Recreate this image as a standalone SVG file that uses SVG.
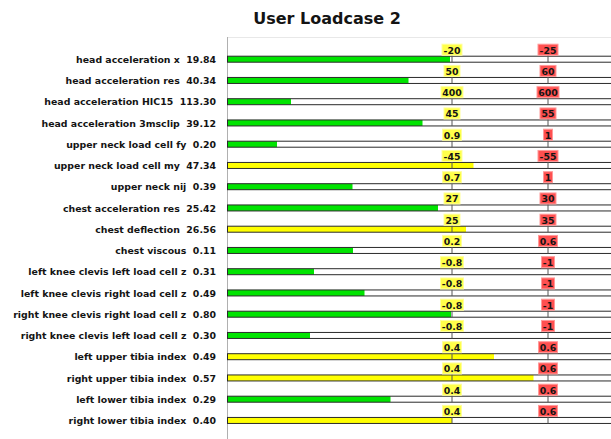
<svg xmlns="http://www.w3.org/2000/svg" width="611" height="439" viewBox="0 0 611 439">
<style>
text{font-family:"DejaVu Sans","Liberation Sans",sans-serif;font-weight:bold;fill:#141414}
.title{font-size:16px;text-anchor:middle}
.lbl{font-size:9.4px;text-anchor:end;white-space:pre}
.tl{font-size:9.4px;text-anchor:middle}
.trk{fill:none;stroke:#2a2a2a;stroke-width:1}
.bg{fill:#fff}
.g{fill:#00e400}
.y{fill:#ffff00}
.tick{stroke:#555;stroke-width:1;fill:none}
.yb{fill:#ffff4a;stroke:#ffff9c;stroke-width:1}
.rb{fill:#ff5050;stroke:#ff9a9a;stroke-width:1}
.axis{stroke:#b0b0b0;stroke-width:1;fill:none}
.top{stroke:#e8e8e8;stroke-width:1;fill:none}
</style>
<rect width="611" height="439" fill="#fff"/>
<text class="title" x="327" y="24">User Loadcase 2</text>
<g id="axes">
<path class="top" d="M227.5,37.5H611"/>
<path class="axis" d="M227.5,37V439"/>
</g>
<g id="connectors"/>

<g id="row1" transform="translate(0,56.2)">
<text class="lbl" x="216" y="6.6" xml:space="preserve">head acceleration x  19.84</text>
<rect class="bg" x="227.5" y="0" width="384" height="6"/><rect class="g" x="227.5" y="0" width="222.5" height="6"/><rect class="trk" x="227.5" y="0" width="384" height="6"/>
<path class="tick" d="M452,-2V6M548,-2V6"/>
<rect class="yb" x="442" y="-12" width="20" height="11"/><text class="tl" x="452" y="-2.5">-20</text>
<rect class="rb" x="538" y="-12" width="20" height="11"/><text class="tl" x="548" y="-2.5">-25</text>
</g>

<g id="row2" transform="translate(0,77.45)">
<text class="lbl" x="216" y="6.6" xml:space="preserve">head acceleration res  40.34</text>
<rect class="bg" x="227.5" y="0" width="384" height="6"/><rect class="g" x="227.5" y="0" width="181" height="6"/><rect class="trk" x="227.5" y="0" width="384" height="6"/>
<path class="tick" d="M452,-2V6M548,-2V6"/>
<rect class="yb" x="444" y="-12" width="16" height="11"/><text class="tl" x="452" y="-2.5">50</text>
<rect class="rb" x="540" y="-12" width="16" height="11"/><text class="tl" x="548" y="-2.5">60</text>
</g>

<g id="row3" transform="translate(0,98.7)">
<text class="lbl" x="216" y="6.6" xml:space="preserve">head acceleration HIC15  113.30</text>
<rect class="bg" x="227.5" y="0" width="384" height="6"/><rect class="g" x="227.5" y="0" width="63.5" height="6"/><rect class="trk" x="227.5" y="0" width="384" height="6"/>
<path class="tick" d="M452,-2V6M548,-2V6"/>
<rect class="yb" x="441" y="-12" width="22" height="11"/><text class="tl" x="452" y="-2.5">400</text>
<rect class="rb" x="537" y="-12" width="22" height="11"/><text class="tl" x="548" y="-2.5">600</text>
</g>

<g id="row4" transform="translate(0,119.95)">
<text class="lbl" x="216" y="6.6" xml:space="preserve">head acceleration 3msclip  39.12</text>
<rect class="bg" x="227.5" y="0" width="384" height="6"/><rect class="g" x="227.5" y="0" width="195" height="6"/><rect class="trk" x="227.5" y="0" width="384" height="6"/>
<path class="tick" d="M452,-2V6M548,-2V6"/>
<rect class="yb" x="444" y="-12" width="16" height="11"/><text class="tl" x="452" y="-2.5">45</text>
<rect class="rb" x="540" y="-12" width="16" height="11"/><text class="tl" x="548" y="-2.5">55</text>
</g>

<g id="row5" transform="translate(0,141.2)">
<text class="lbl" x="216" y="6.6" xml:space="preserve">upper neck load cell fy  0.20</text>
<rect class="bg" x="227.5" y="0" width="384" height="6"/><rect class="g" x="227.5" y="0" width="49.5" height="6"/><rect class="trk" x="227.5" y="0" width="384" height="6"/>
<path class="tick" d="M452,-2V6M548,-2V6"/>
<rect class="yb" x="442.5" y="-12" width="19" height="11"/><text class="tl" x="452" y="-2.5">0.9</text>
<rect class="rb" x="543.5" y="-12" width="9" height="11"/><text class="tl" x="548" y="-2.5">1</text>
</g>

<g id="row6" transform="translate(0,162.45)">
<text class="lbl" x="216" y="6.6" xml:space="preserve">upper neck load cell my  47.34</text>
<rect class="bg" x="227.5" y="0" width="384" height="6"/><rect class="y" x="227.5" y="0" width="246" height="6"/><rect class="trk" x="227.5" y="0" width="384" height="6"/>
<path class="tick" d="M452,-2V6M548,-2V6"/>
<rect class="yb" x="442" y="-12" width="20" height="11"/><text class="tl" x="452" y="-2.5">-45</text>
<rect class="rb" x="538" y="-12" width="20" height="11"/><text class="tl" x="548" y="-2.5">-55</text>
</g>

<g id="row7" transform="translate(0,183.7)">
<text class="lbl" x="216" y="6.6" xml:space="preserve">upper neck nij  0.39</text>
<rect class="bg" x="227.5" y="0" width="384" height="6"/><rect class="g" x="227.5" y="0" width="125" height="6"/><rect class="trk" x="227.5" y="0" width="384" height="6"/>
<path class="tick" d="M452,-2V6M548,-2V6"/>
<rect class="yb" x="442.5" y="-12" width="19" height="11"/><text class="tl" x="452" y="-2.5">0.7</text>
<rect class="rb" x="543.5" y="-12" width="9" height="11"/><text class="tl" x="548" y="-2.5">1</text>
</g>

<g id="row8" transform="translate(0,204.95)">
<text class="lbl" x="216" y="6.6" xml:space="preserve">chest acceleration res  25.42</text>
<rect class="bg" x="227.5" y="0" width="384" height="6"/><rect class="g" x="227.5" y="0" width="210.5" height="6"/><rect class="trk" x="227.5" y="0" width="384" height="6"/>
<path class="tick" d="M452,-2V6M548,-2V6"/>
<rect class="yb" x="444" y="-12" width="16" height="11"/><text class="tl" x="452" y="-2.5">27</text>
<rect class="rb" x="540" y="-12" width="16" height="11"/><text class="tl" x="548" y="-2.5">30</text>
</g>

<g id="row9" transform="translate(0,226.2)">
<text class="lbl" x="216" y="6.6" xml:space="preserve">chest deflection  26.56</text>
<rect class="bg" x="227.5" y="0" width="384" height="6"/><rect class="y" x="227.5" y="0" width="238.5" height="6"/><rect class="trk" x="227.5" y="0" width="384" height="6"/>
<path class="tick" d="M452,-2V6M548,-2V6"/>
<rect class="yb" x="444" y="-12" width="16" height="11"/><text class="tl" x="452" y="-2.5">25</text>
<rect class="rb" x="540" y="-12" width="16" height="11"/><text class="tl" x="548" y="-2.5">35</text>
</g>

<g id="row10" transform="translate(0,247.45)">
<text class="lbl" x="216" y="6.6" xml:space="preserve">chest viscous  0.11</text>
<rect class="bg" x="227.5" y="0" width="384" height="6"/><rect class="g" x="227.5" y="0" width="125.5" height="6"/><rect class="trk" x="227.5" y="0" width="384" height="6"/>
<path class="tick" d="M452,-2V6M548,-2V6"/>
<rect class="yb" x="442.5" y="-12" width="19" height="11"/><text class="tl" x="452" y="-2.5">0.2</text>
<rect class="rb" x="538.5" y="-12" width="19" height="11"/><text class="tl" x="548" y="-2.5">0.6</text>
</g>

<g id="row11" transform="translate(0,268.7)">
<text class="lbl" x="216" y="6.6" xml:space="preserve">left knee clevis left load cell z  0.31</text>
<rect class="bg" x="227.5" y="0" width="384" height="6"/><rect class="g" x="227.5" y="0" width="86.5" height="6"/><rect class="trk" x="227.5" y="0" width="384" height="6"/>
<path class="tick" d="M452,-2V6M548,-2V6"/>
<rect class="yb" x="440.5" y="-12" width="23" height="11"/><text class="tl" x="452" y="-2.5">-0.8</text>
<rect class="rb" x="541.5" y="-12" width="13" height="11"/><text class="tl" x="548" y="-2.5">-1</text>
</g>

<g id="row12" transform="translate(0,289.95)">
<text class="lbl" x="216" y="6.6" xml:space="preserve">left knee clevis right load cell z  0.49</text>
<rect class="bg" x="227.5" y="0" width="384" height="6"/><rect class="g" x="227.5" y="0" width="137" height="6"/><rect class="trk" x="227.5" y="0" width="384" height="6"/>
<path class="tick" d="M452,-2V6M548,-2V6"/>
<rect class="yb" x="440.5" y="-12" width="23" height="11"/><text class="tl" x="452" y="-2.5">-0.8</text>
<rect class="rb" x="541.5" y="-12" width="13" height="11"/><text class="tl" x="548" y="-2.5">-1</text>
</g>

<g id="row13" transform="translate(0,311.2)">
<text class="lbl" x="216" y="6.6" xml:space="preserve">right knee clevis right load cell z  0.80</text>
<rect class="bg" x="227.5" y="0" width="384" height="6"/><rect class="g" x="227.5" y="0" width="223.5" height="6"/><rect class="trk" x="227.5" y="0" width="384" height="6"/>
<path class="tick" d="M452,-2V6M548,-2V6"/>
<rect class="yb" x="440.5" y="-12" width="23" height="11"/><text class="tl" x="452" y="-2.5">-0.8</text>
<rect class="rb" x="541.5" y="-12" width="13" height="11"/><text class="tl" x="548" y="-2.5">-1</text>
</g>

<g id="row14" transform="translate(0,332.45)">
<text class="lbl" x="216" y="6.6" xml:space="preserve">right knee clevis left load cell z  0.30</text>
<rect class="bg" x="227.5" y="0" width="384" height="6"/><rect class="g" x="227.5" y="0" width="82.5" height="6"/><rect class="trk" x="227.5" y="0" width="384" height="6"/>
<path class="tick" d="M452,-2V6M548,-2V6"/>
<rect class="yb" x="440.5" y="-12" width="23" height="11"/><text class="tl" x="452" y="-2.5">-0.8</text>
<rect class="rb" x="541.5" y="-12" width="13" height="11"/><text class="tl" x="548" y="-2.5">-1</text>
</g>

<g id="row15" transform="translate(0,353.7)">
<text class="lbl" x="216" y="6.6" xml:space="preserve">left upper tibia index  0.49</text>
<rect class="bg" x="227.5" y="0" width="384" height="6"/><rect class="y" x="227.5" y="0" width="266.5" height="6"/><rect class="trk" x="227.5" y="0" width="384" height="6"/>
<path class="tick" d="M452,-2V6M548,-2V6"/>
<rect class="yb" x="442.5" y="-12" width="19" height="11"/><text class="tl" x="452" y="-2.5">0.4</text>
<rect class="rb" x="538.5" y="-12" width="19" height="11"/><text class="tl" x="548" y="-2.5">0.6</text>
</g>

<g id="row16" transform="translate(0,374.95)">
<text class="lbl" x="216" y="6.6" xml:space="preserve">right upper tibia index  0.57</text>
<rect class="bg" x="227.5" y="0" width="384" height="6"/><rect class="y" x="227.5" y="0" width="306" height="6"/><rect class="trk" x="227.5" y="0" width="384" height="6"/>
<path class="tick" d="M452,-2V6M548,-2V6"/>
<rect class="yb" x="442.5" y="-12" width="19" height="11"/><text class="tl" x="452" y="-2.5">0.4</text>
<rect class="rb" x="538.5" y="-12" width="19" height="11"/><text class="tl" x="548" y="-2.5">0.6</text>
</g>

<g id="row17" transform="translate(0,396.2)">
<text class="lbl" x="216" y="6.6" xml:space="preserve">left lower tibia index  0.29</text>
<rect class="bg" x="227.5" y="0" width="384" height="6"/><rect class="g" x="227.5" y="0" width="163" height="6"/><rect class="trk" x="227.5" y="0" width="384" height="6"/>
<path class="tick" d="M452,-2V6M548,-2V6"/>
<rect class="yb" x="442.5" y="-12" width="19" height="11"/><text class="tl" x="452" y="-2.5">0.4</text>
<rect class="rb" x="538.5" y="-12" width="19" height="11"/><text class="tl" x="548" y="-2.5">0.6</text>
</g>

<g id="row18" transform="translate(0,417.45)">
<text class="lbl" x="216" y="6.6" xml:space="preserve">right lower tibia index  0.40</text>
<rect class="bg" x="227.5" y="0" width="384" height="6"/><rect class="y" x="227.5" y="0" width="224.5" height="6"/><rect class="trk" x="227.5" y="0" width="384" height="6"/>
<path class="tick" d="M452,-2V6M548,-2V6"/>
<rect class="yb" x="442.5" y="-12" width="19" height="11"/><text class="tl" x="452" y="-2.5">0.4</text>
<rect class="rb" x="538.5" y="-12" width="19" height="11"/><text class="tl" x="548" y="-2.5">0.6</text>
</g>
</svg>
